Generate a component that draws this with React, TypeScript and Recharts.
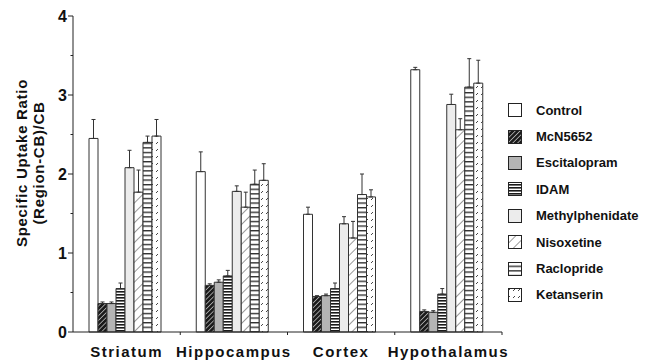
import React from "react";
import { BarChart, Bar, XAxis, YAxis, ErrorBar } from "recharts";

// ---------------------------------------------------------------------------
// Data
// ---------------------------------------------------------------------------
const regions = ["Striatum", "Hippocampus", "Cortex", "Hypothalamus"];

const control = [2.45, 2.03, 1.49, 3.32];
const controlErr = [0.24, 0.25, 0.09, 0.03];
const mcn5652 = [0.36, 0.59, 0.45, 0.26];
const mcn5652Err = [0.02, 0.02, 0.01, 0.02];
const escitalopram = [0.36, 0.63, 0.46, 0.25];
const escitalopramErr = [0.02, 0.03, 0.02, 0.02];
const idam = [0.55, 0.71, 0.55, 0.48];
const idamErr = [0.07, 0.07, 0.07, 0.07];
const methylphenidate = [2.08, 1.78, 1.37, 2.88];
const methylphenidateErr = [0.22, 0.07, 0.09, 0.13];
const nisoxetine = [1.77, 1.58, 1.19, 2.56];
const nisoxetineErr = [0.28, 0.19, 0.21, 0.14];
const raclopride = [2.4, 1.87, 1.74, 3.1];
const racloprideErr = [0.08, 0.18, 0.26, 0.36];
const ketanserin = [2.48, 1.92, 1.71, 3.15];
const ketanserinErr = [0.21, 0.21, 0.09, 0.29];

const yTicks = [0, 0.5, 1, 1.5, 2, 2.5, 3, 3.5, 4];

const series = [
  { key: "control", name: "Control", values: control, errs: controlErr, fill: "#ffffff" },
  { key: "mcn", name: "McN5652", values: mcn5652, errs: mcn5652Err, fill: "url(#pMcn)" },
  { key: "escit", name: "Escitalopram", values: escitalopram, errs: escitalopramErr, fill: "#b4b4b4" },
  { key: "idam", name: "IDAM", values: idam, errs: idamErr, fill: "url(#pIdam)" },
  { key: "methyl", name: "Methylphenidate", values: methylphenidate, errs: methylphenidateErr, fill: "#ececec" },
  { key: "nisox", name: "Nisoxetine", values: nisoxetine, errs: nisoxetineErr, fill: "url(#pNisox)" },
  { key: "raclo", name: "Raclopride", values: raclopride, errs: racloprideErr, fill: "url(#pRaclo)" },
  { key: "ketan", name: "Ketanserin", values: ketanserin, errs: ketanserinErr, fill: "url(#pKetan)" },
];

const data = regions.map((region, i) => {
  const row: Record<string, unknown> = { region };
  series.forEach((s) => {
    row[s.key] = s.values[i];
    row[s.key + "Err"] = [0, s.errs[i]];
  });
  return row;
});

const FONT = "'Liberation Sans', Arial, Helvetica, sans-serif";
const INK = "#222";

// ---------------------------------------------------------------------------
// Pattern fills
// ---------------------------------------------------------------------------
function Patterns() {
  return (
    <svg width={0} height={0} style={{ position: "absolute" }}>
      <defs>
        <pattern id="pMcn" width={3.4} height={3.4} patternUnits="userSpaceOnUse" patternTransform="rotate(45)">
          <rect width={3.4} height={3.4} fill="#1a1a1a" />
          <line x1={0} y1={0} x2={0} y2={3.4} stroke="#ffffff" strokeWidth={1.1} />
        </pattern>
        <pattern id="pIdam" width={4} height={3} patternUnits="userSpaceOnUse">
          <rect width={4} height={3} fill="#ffffff" />
          <rect y={0} width={4} height={1.6} fill="#1a1a1a" />
        </pattern>
        <pattern id="pNisox" width={7} height={7} patternUnits="userSpaceOnUse" patternTransform="rotate(45)">
          <rect width={7} height={7} fill="#ffffff" />
          <line x1={0} y1={0} x2={0} y2={7} stroke="#333" strokeWidth={1} />
        </pattern>
        <pattern id="pRaclo" width={6} height={4.6} patternUnits="userSpaceOnUse">
          <rect width={6} height={4.6} fill="#ffffff" />
          <line x1={0} y1={0.7} x2={6} y2={0.7} stroke="#222" strokeWidth={1.3} />
        </pattern>
        <pattern id="pKetan" width={5} height={7} patternUnits="userSpaceOnUse">
          <rect width={5} height={7} fill="#ffffff" />
          <line x1={1} y1={4} x2={3} y2={2} stroke="#333" strokeWidth={0.9} />
        </pattern>
      </defs>
    </svg>
  );
}

// ---------------------------------------------------------------------------
// Axis ticks
// ---------------------------------------------------------------------------
function YTick({ x, y, payload }: { x?: number; y?: number; payload?: { value: number } }) {
  const v = payload?.value ?? 0;
  const major = Number.isInteger(v);
  return (
    <g>
      <line x1={(x ?? 0) - (major ? 5 : 2.5)} x2={x} y1={y} y2={y} stroke={INK} strokeWidth={1} />
      {major && (
        <text x={(x ?? 0) - 6} y={(y ?? 0) + 6} textAnchor="end" fontSize={16} fontWeight="bold" fontFamily={FONT} fill="#111">
          {v}
        </text>
      )}
    </g>
  );
}

function XTick(props: { x?: number; y?: number; payload?: { value: string }; index?: number; width?: number; visibleTicksCount?: number }) {
  const { x = 0, y = 0, payload, index = 0, width = 429, visibleTicksCount = 4 } = props;
  const half = width / visibleTicksCount / 2;
  return (
    <g>
      {index > 0 && <line x1={x - half} x2={x - half} y1={y} y2={y + 3} stroke={INK} />}
      {index === visibleTicksCount - 1 && <line x1={x + half} x2={x + half} y1={y} y2={y + 3} stroke={INK} />}
      <text x={x} y={y + 24.5} textAnchor="middle" fontSize={15} fontWeight="bold" letterSpacing={1.5} fontFamily={FONT} fill="#111">
        {payload?.value}
      </text>
    </g>
  );
}

// ---------------------------------------------------------------------------
// Legend
// ---------------------------------------------------------------------------
function LegendBox() {
  return (
    <div style={{ position: "absolute", left: 507, top: 97, fontFamily: FONT }}>
      {series.map((s) => (
        <div key={s.key} style={{ display: "flex", alignItems: "center", height: 26.4 }}>
          <svg width={16} height={16} style={{ display: "block" }}>
            <rect x={1.5} y={1.5} width={13} height={13} fill={s.fill} stroke={INK} strokeWidth={1} />
          </svg>
          <span style={{ marginLeft: 13, fontSize: 13, fontWeight: "bold", color: "#111", whiteSpace: "nowrap" }}>
            {s.name}
          </span>
        </div>
      ))}
    </div>
  );
}

// ---------------------------------------------------------------------------
// Component
// ---------------------------------------------------------------------------
export default function App() {
  return (
    <div style={{ position: "absolute", left: 0, top: 0, width: 652, height: 360, background: "#fff", overflow: "hidden" }}>
      <Patterns />
      <div
        style={{
          position: "absolute",
          left: 29.5,
          top: 163,
          transform: "translate(-50%, -50%) rotate(-90deg)",
          fontFamily: FONT,
          fontWeight: "bold",
          fontSize: 15,
          letterSpacing: 0.7,
          lineHeight: "17px",
          textAlign: "center",
          whiteSpace: "nowrap",
          color: "#111",
        }}
      >
        Specific Uptake Ratio
        <br />
        (Region-CB)/CB
      </div>
      <BarChart
        width={652}
        height={360}
        data={data}
        margin={{ top: 16, right: 150, bottom: 0, left: 0 }}
        barCategoryGap={16}
        barGap={0}
      >
        <XAxis
          dataKey="region"
          height={28}
          stroke={INK}
          tickSize={0}
          tickMargin={0}
          tick={<XTick />}
          interval={0}
        />
        <YAxis
          width={73}
          domain={[0, 4]}
          ticks={yTicks}
          interval={0}
          stroke={INK}
          tickSize={0}
          tickMargin={0}
          tick={<YTick />}
        />
        {series.map((s) => (
          <Bar key={s.key} dataKey={s.key} name={s.name} fill={s.fill} stroke="#333" strokeWidth={1} isAnimationActive={false}>
            <ErrorBar dataKey={s.key + "Err"} width={2} stroke="#333" strokeWidth={1} direction="y" isAnimationActive={false} />
          </Bar>
        ))}
      </BarChart>
      <LegendBox />
    </div>
  );
}
